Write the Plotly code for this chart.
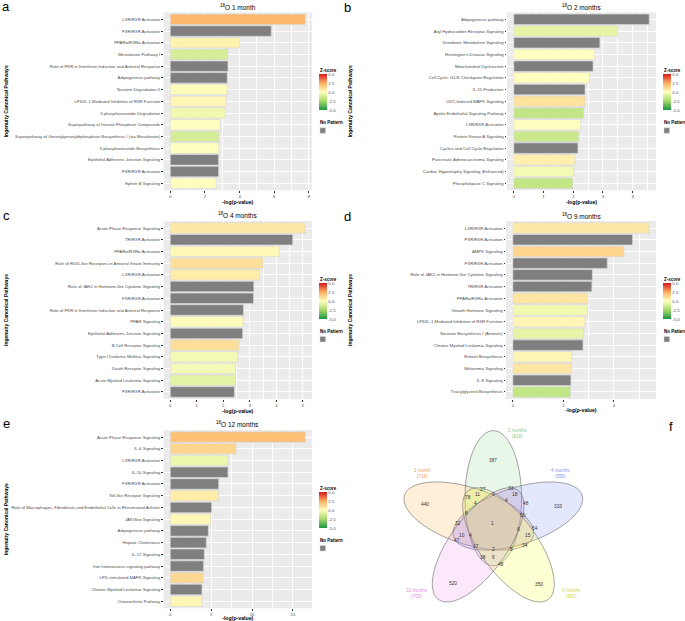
import numpy as np
import plotly.graph_objects as go

W, H = 685, 621
FONT = "Liberation Sans, Arial, sans-serif"

# ---- panel a: 18O 1 month ----
a_pathways = ["LXR/RXR Activation", "FXR/RXR Activation", "PPARα/RXRα Activation",
              "Mevalonate Pathway I", "Role of PKR in Interferon Induction and Antiviral Response",
              "Adipogenesis pathway", "Nicotine Degradation II",
              "LPS/IL-1 Mediated Inhibition of RXR Function", "3-phosphoinositide Degradation",
              "Superpathway of Inositol Phosphate Compounds",
              "Superpathway of Geranylgeranyldiphosphate Biosynthesis I (via Mevalonate)",
              "3-phosphoinositide Biosynthesis", "Epithelial Adherens Junction Signaling",
              "PXR/RXR Activation", "Ephrin B Signaling"]
a_logp = [7.79, 5.83, 4.0, 3.33, 3.33, 3.29, 3.29, 3.23, 3.17, 2.88, 2.81, 2.81, 2.79, 2.79, 2.65]
a_zscore = [2.2, None, 0.4, -1.2, None, None, 0.1, 0.3, -0.4, 0.0, -1.2, 0.0, None, None, 0.0]

# ---- panel b: 18O 2 months ----
b_pathways = ["Adipogenesis pathway", "Aryl Hydrocarbon Receptor Signaling",
              "Xenobiotic Metabolism Signaling", "Huntington's Disease Signaling",
              "Mitochondrial Dysfunction", "Cell Cycle: G1/S Checkpoint Regulation",
              "IL-15 Production", "UVC-Induced MAPK Signaling",
              "Apelin Endothelial Signaling Pathway", "LXR/RXR Activation",
              "Protein Kinase A Signaling", "Cyclins and Cell Cycle Regulation",
              "Pancreatic Adenocarcinoma Signaling", "Cardiac Hypertrophy Signaling (Enhanced)",
              "Phospholipase C Signaling"]
b_logp = [4.56, 3.49, 2.90, 2.72, 2.67, 2.55, 2.40, 2.40, 2.35, 2.25, 2.19, 2.16, 2.06, 2.02, 1.99]
b_zscore = [None, -0.7, None, 0.0, None, 0.0, None, 0.9, -1.7, 0.0, -1.5, None, 0.5, -0.3, -1.7]

# ---- panel c: 18O 4 months ----
c_pathways = ["Acute Phase Response Signaling", "TR/RXR Activation", "PPARα/RXRα Activation",
              "Role of RIG1-like Receptors in Antiviral Innate Immunity", "LXR/RXR Activation",
              "Role of JAK2 in Hormone-like Cytokine Signaling", "FXR/RXR Activation",
              "Role of PKR in Interferon Induction and Antiviral Response", "PPAR Signaling",
              "Epithelial Adherens Junction Signaling", "B Cell Receptor Signaling",
              "Type I Diabetes Mellitus Signaling", "Death Receptor Signaling",
              "Acute Myeloid Leukemia Signaling", "PXR/RXR Activation"]
c_logp = [5.09, 4.62, 4.11, 3.50, 3.37, 3.15, 3.14, 2.76, 2.75, 2.73, 2.59, 2.55, 2.47, 2.46, 2.42]
c_zscore = [0.7, None, 0.2, 1.0, 0.6, None, None, None, 0.1, None, 1.0, -0.3, -0.3, -0.8, None]

# ---- panel d: 18O 9 months ----
d_pathways = ["LXR/RXR Activation", "PXR/RXR Activation", "AMPK Signaling", "FXR/RXR Activation",
              "Role of JAK2 in Hormone-like Cytokine Signaling", "TR/RXR Activation",
              "PPARα/RXRα Activation", "Growth Hormone Signaling",
              "LPS/IL-1 Mediated Inhibition of RXR Function", "Stearate Biosynthesis I (Animals)",
              "Chronic Myeloid Leukemia Signaling", "Retinol Biosynthesis", "Melanoma Signaling",
              "IL-8 Signaling", "Triacylglycerol Biosynthesis"]
d_logp = [5.40, 4.74, 4.40, 3.74, 3.15, 3.13, 2.98, 2.97, 2.86, 2.81, 2.78, 2.34, 2.32, 2.30, 2.28]
d_zscore = [0.7, None, 1.3, None, None, None, 0.8, -0.4, 0.3, -0.7, None, 0.3, 0.8, None, -1.7]

# ---- panel e: 18O 12 months ----
e_pathways = ["Acute Phase Response Signaling", "IL-6 Signaling", "LXR/RXR Activation",
              "IL-10 Signaling", "FXR/RXR Activation", "Toll-like Receptor Signaling",
              "Role of Macrophages, Fibroblasts and Endothelial Cells in Rheumatoid Arthritis",
              "JAK/Stat Signaling", "Adipogenesis pathway", "Hepatic Cholestasis",
              "IL-17 Signaling", "Iron homeostasis signaling pathway",
              "LPS-stimulated MAPK Signaling", "Chronic Myeloid Leukemia Signaling",
              "Osteoarthritis Pathway"]
e_logp = [16.5, 8.04, 7.06, 7.06, 5.92, 5.92, 5.06, 4.94, 4.65, 4.41, 4.16, 4.08, 4.04, 3.88, 3.88]
e_zscore = [1.9, 1.3, -0.5, None, None, 0.6, None, 0.2, None, None, None, None, 1.2, None, 0.3]

# ---- panel f: Venn diagram ----
venn_sets = ["1 month", "2 months", "4 months", "9 months", "12 months"]
venn_sizes = [716, 618, 556, 582, 705]
venn_counts = [387, 440, 333, 520, 350, 1, 27, 33, 78, 11, 9, 18, 4, 4, 48, 8, 50, 32, 54, 6,
               10, 4, 15, 47, 17, 2, 5, 34, 38, 6, 48]
# label positions in pixels
venn_count_xy = [(493, 460), (425, 505), (558, 506), (453, 583), (539, 584), (492, 523),
                 (483, 489), (511, 488), (468, 497), (477, 494), (493, 494), (515, 494),
                 (475, 503), (506, 500), (526, 503), (466, 513), (523, 515), (458, 523),
                 (535, 528), (518, 529), (462, 535), (470, 535), (528, 535), (457, 540),
                 (476, 546), (493, 549), (512, 549), (525, 545), (483, 557), (493, 557),
                 (501, 564)]

COLORSCALE = [[0, "#1a9641"], [0.25, "#a6d96a"], [0.5, "#ffffbf"], [0.75, "#fdae61"], [1, "#d7191c"]]


def fx(px):
    return px / W


def fy(py):
    return 1 - py / H


def note(x, y, text, size, color="black", **kw):
    d = dict(x=fx(x), y=fy(y), xref="paper", yref="paper", text=text, showarrow=False,
             xanchor="center", yanchor="middle", font=dict(size=size, color=color))
    d.update(kw)
    return d


# panel boxes in pixels: left, right, top, bottom of plot area; legend x; title y; ylab x
boxes = [
    dict(l=163.5, r=312, t=12.3, b=190.3, lx=319, ty=7, yx=6, tag="a", tagxy=(6, 6)),
    dict(l=507, r=656, t=12.3, b=190.3, lx=663, ty=7, yx=350, tag="b", tagxy=(347, 7)),
    dict(l=163.5, r=312, t=221, b=399, lx=319, ty=215, yx=6, tag="c", tagxy=(6, 215)),
    dict(l=506, r=656, t=221, b=399, lx=663, ty=215.5, yx=350, tag="d", tagxy=(347, 216)),
    dict(l=163.5, r=312, t=430, b=608.3, lx=319, ty=423.5, yx=6, tag="e", tagxy=(6, 423)),
]
panels = [
    ("<sup>18</sup>O 1 month", a_pathways, a_logp, a_zscore, 2),
    ("<sup>18</sup>O 2 months", b_pathways, b_logp, b_zscore, 1),
    ("<sup>18</sup>O 4 months", c_pathways, c_logp, c_zscore, 1),
    ("<sup>18</sup>O 9 months", d_pathways, d_logp, d_zscore, 2),
    ("<sup>18</sup>O 12 months", e_pathways, e_logp, e_zscore, 5),
]

fig = go.Figure()
layout = dict(width=W, height=H, margin=dict(l=0, r=0, t=0, b=0),
              paper_bgcolor="white", plot_bgcolor="#EBEBEB", barmode="overlay",
              showlegend=False, font=dict(family=FONT, color="#4D4D4D"))
annotations = []
shapes = []

for i, ((title, paths, logp, zs, dt), bx) in enumerate(zip(panels, boxes)):
    n = i + 1
    sfx = "" if n == 1 else str(n)
    cax = "coloraxis" + sfx
    col_y = [p for p, z in zip(paths, zs) if z is not None]
    col_x = [v for v, z in zip(logp, zs) if z is not None]
    col_z = [z for z in zs if z is not None]
    gry_y = [p for p, z in zip(paths, zs) if z is None]
    gry_x = [v for v, z in zip(logp, zs) if z is None]

    fig.add_trace(go.Bar(x=col_x, y=col_y, orientation="h", width=0.9,
                         marker=dict(color=col_z, coloraxis=cax,
                                     line=dict(color="#D9D9D9", width=0.7)),
                         xaxis="x" + sfx, yaxis="y" + sfx))
    fig.add_trace(go.Bar(x=gry_x, y=gry_y, orientation="h", width=0.9,
                         marker=dict(color="#7F7F7F", line=dict(color="#D9D9D9", width=0.7)),
                         xaxis="x" + sfx, yaxis="y" + sfx))

    mx = max(logp)
    layout["xaxis" + sfx] = dict(
        domain=[fx(bx["l"]), fx(bx["r"])], anchor="y" + sfx,
        range=[-0.05 * mx, 1.05 * mx], tick0=0, dtick=dt,
        showgrid=True, gridcolor="white", gridwidth=0.7, zeroline=False,
        minor=dict(showgrid=True, gridcolor="white", gridwidth=0.35, dtick=dt / 2, tick0=0),
        ticks="outside", ticklen=1.5, tickwidth=0.5, tickcolor="#333333",
        tickfont=dict(size=4.3, color="#4D4D4D"),
        title=dict(text="<b>-log(p-value)</b>", font=dict(size=5.2, color="black"), standoff=1))
    nc = len(paths)
    layout["yaxis" + sfx] = dict(
        domain=[fy(bx["b"]), fy(bx["t"])], anchor="x" + sfx, type="category",
        categoryorder="array", categoryarray=paths, range=[nc - 0.4, -0.6],
        showgrid=True, gridcolor="white", gridwidth=0.7, zeroline=False,
        ticks="outside", ticklen=1.5, tickwidth=0.5, tickcolor="#333333",
        tickfont=dict(size=4.25, color="#4D4D4D"))
    cy = bx["t"] + 80
    layout[cax] = dict(
        cmin=-5, cmax=5, colorscale=COLORSCALE,
        colorbar=dict(x=fx(bx["lx"]), xanchor="left", y=fy(cy), yanchor="middle",
                      len=36, lenmode="pixels", thickness=8, thicknessmode="pixels",
                      xpad=0, ypad=0, outlinewidth=0, ticks="",
                      tickvals=[-5, -2.5, 0, 2.5, 5],
                      ticktext=["-5.0", "-2.5", "0.0", "2.5", "5.0"],
                      tickfont=dict(size=4.3, color="#4D4D4D")))
    # titles and labels
    annotations.append(note((bx["l"] + bx["r"]) / 2, bx["ty"], title, 6.5))
    annotations.append(note(bx["yx"], (bx["t"] + bx["b"]) / 2,
                            "<b>Ingenuity Canonical Pathways</b>", 5, textangle=-90))
    annotations.append(note(bx["tagxy"][0], bx["tagxy"][1], bx["tag"], 13))
    annotations.append(note(bx["lx"] - 1, cy - 22, "<b>Z-score</b>", 4.5, xanchor="left"))
    annotations.append(note(bx["lx"] - 1, cy + 30.5, "<b>No Pattern</b>", 4.5, xanchor="left"))
    shapes.append(dict(type="rect", xref="paper", yref="paper",
                       x0=fx(bx["lx"] + 1), x1=fx(bx["lx"] + 6.5),
                       y0=fy(cy + 35.5), y1=fy(cy + 41),
                       fillcolor="#7F7F7F", line=dict(color="#D9D9D9", width=0.5)))

# ---- Venn ellipses ----
C = np.array([493.3, 524.0])
dist, A, B = 25.8, 67.5, 28.3
angles = [162, 90, 18, 306, 234]
fills = ["rgba(255,160,40,0.18)", "rgba(110,200,110,0.15)", "rgba(100,130,255,0.18)",
         "rgba(255,255,60,0.22)", "rgba(225,110,225,0.15)"]
label_cols = ["#F0A050", "#8CC98C", "#7F99F0", "#D4D444", "#E08AE0"]
label_xy = [(422, 473), (517, 433), (560, 473), (571, 593), (417, 593)]
t = np.linspace(0, 2 * np.pi, 120)
for ang, fc in zip(angles, fills):
    u = np.array([np.cos(np.radians(ang)), -np.sin(np.radians(ang))])
    v = np.array([-u[1], u[0]])
    ctr = C + dist * u
    pts = ctr[None, :] + np.outer(A * np.cos(t), u) + np.outer(B * np.sin(t), v)
    path = "M " + " L ".join(f"{fx(p[0]):.5f},{fy(p[1]):.5f}" for p in pts) + " Z"
    shapes.append(dict(type="path", path=path, xref="paper", yref="paper",
                       fillcolor=fc, line=dict(color="#666666", width=0.6)))
for name, size, col, (lx, ly) in zip(venn_sets, venn_sizes, label_cols, label_xy):
    annotations.append(note(lx, ly, f"{name}<br>({size})", 4.5, col))
for cnt, (cx, cy) in zip(venn_counts, venn_count_xy):
    annotations.append(note(cx, cy, str(cnt), 4.8, "#333333"))
annotations.append(note(671, 427, "f", 13))

layout["annotations"] = annotations
layout["shapes"] = shapes
fig.update_layout(**layout)
fig.write_html("out.html", config={"displayModeBar": False},
               post_script="document.body.style.margin='0';")
